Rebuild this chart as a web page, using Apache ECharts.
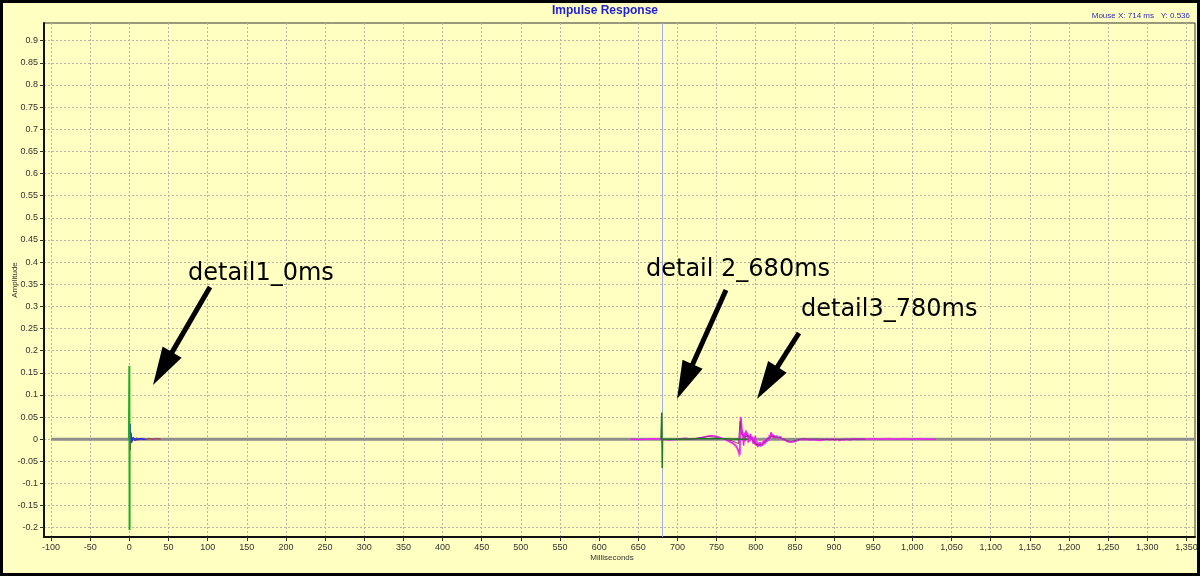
<!DOCTYPE html>
<html>
<head>
<meta charset="utf-8">
<script src="https://cdn.jsdelivr.net/npm/echarts@6/dist/echarts.min.js"></script>
<style>
html,body{margin:0;padding:0;background:#ffffc2;}
#chart{width:1200px;height:576px;}
</style>
</head>
<body>
<div id="chart"></div>
<script>
// ---------- data ----------
const xTicks = [-100,-50,0,50,100,150,200,250,300,350,400,450,500,550,600,650,700,750,800,850,900,950,1000,1050,1100,1150,1200,1250,1300,1350];
const yTicks = [-0.2,-0.15,-0.1,-0.05,0,0.05,0.1,0.15,0.2,0.25,0.3,0.35,0.4,0.45,0.5,0.55,0.6,0.65,0.7,0.75,0.8,0.85,0.9];

const baseMs = [-100, 1361];
const baseAmp = [0, 0];

const green1Ms  = [-0.5, 0, 0, 0.3, 0.3, 1];
const green1Amp = [0, 0, 0.165, -0.205, 0, 0];

const blueMs  = [0.3, 1, 1.5, 2, 3, 5, 8, 12, 20];
const blueAmp = [0, 0.035, -0.01, 0.015, -0.005, 0.003, -0.002, 0.001, 0];

const redMs  = [0.5, 1.2, 2, 3, 5, 7, 9, 12, 15, 20, 25, 30, 35, 40];
const redAmp = [0, -0.025, 0.01, -0.008, 0.005, -0.004, 0.003, -0.002, 0.002, -0.001, 0.001, 0, 0.001, 0];

const green2Ms  = [679, 680, 680, 680.6, 681, 682, 700, 730, 760, 780, 790];
const green2Amp = [0, 0, 0.06, -0.065, 0, 0, 0, 0.001, 0.001, 0, 0];

const magentaMs = [640,650,660,670,680,690,700,710,720,730,740,745,750,755,760,765,770,775,778,779.5,
  780.5,781.5,782.5,783.5,784.5,785.5,786.5,787.5,788.5,789.5,790.5,791.5,792.5,793.5,794.5,795.5,796.5,797.5,798.5,799.5,
  800.5,801.5,802.5,803.5,804.5,805.5,806.5,807.5,808.5,809.5,810.5,811.5,812.5,813.5,814.5,815.5,816.5,817.5,818.5,819.5,
  820.5,821.5,822.5,823.5,825,827,829,831,833,835,837,839,841,843,845,847,849,851,853,855,857,859,861,863,865,867,869,871,873,875,
  877,879,881,883,885,887,889,892,895,898,901,904,907,910,913,916,920,925,930,935,940,950,960,970,980,990,1000,1010,1020,1030];
const magentaAmp = [0,-0.001,0,0.001,0,-0.002,0,0.002,-0.001,0.003,0.007,0.008,0.006,0.003,0,-0.004,-0.008,-0.015,-0.025,-0.035,
  0.05,0.045,0.02,0.01,-0.015,0.015,-0.005,0.02,0.005,0.015,-0.008,0.01,-0.005,0.012,0,0.006,-0.01,0.004,-0.012,0.008,
  -0.015,-0.005,-0.018,-0.008,-0.016,-0.006,-0.017,-0.01,-0.015,-0.004,-0.012,-0.002,-0.01,0.002,-0.006,0.004,-0.004,0.01,0.002,0.016,
  0.004,0.012,0.003,0.009,0.002,0.008,0.001,0.006,0.001,0.004,-0.002,-0.004,-0.006,-0.003,-0.007,-0.004,-0.006,-0.002,-0.003,0.001,-0.001,0.003,0,0.004,-0.001,0.003,-0.002,0.002,-0.001,0.002,
  -0.002,0.001,-0.003,0.001,-0.002,0.002,-0.001,0.001,-0.002,0.001,-0.002,0,-0.003,-0.001,-0.002,0,-0.002,0.001,-0.001,0.001,0,0.001,0,0.001,0,0.001,0,0.001,0,0];

const purpleMs  = [700,720,740,750,760,770,778,780,782,786,790,795,800,805,810,815,820,830,840,845,850,860,870,880,900,920,940];
const purpleAmp = [0,0.001,0.006,0.004,0,-0.004,-0.01,0.04,0.01,0.005,0.008,0,-0.012,-0.013,-0.008,0,0.006,0.004,-0.003,-0.005,-0.003,0.001,0,0,-0.001,0,0];

const pinkMs  = [755,765,772,776,779,780,781];
const pinkAmp = [0,-0.005,-0.012,-0.022,-0.04,-0.035,0.01];

const cursorMs = 680;

const labels = ['detail1_0ms', 'detail 2_680ms', 'detail3_780ms'];
const titleText = 'Impulse Response';
const mouseText = 'Mouse X: 714 ms   Y: 0.536';

// ---------- helpers ----------
function pairs(xs, ys){ return xs.map((x,i)=>[x, ys[i]]); }
function line(name, xs, ys, color, width, z){
  return {name, type:'line', data:pairs(xs,ys), showSymbol:false, symbol:'none',
    lineStyle:{color, width}, itemStyle:{color}, z, animation:false, silent:true};
}
function arrow(sx, sy, tx, ty){
  const dx = tx - sx, dy = ty - sy, L = Math.hypot(dx, dy);
  const ux = dx / L, uy = dy / L, head = 38, hw = 11;
  const bx = tx - ux*head, by = ty - uy*head;
  return [
    {type:'line', shape:{x1:sx, y1:sy, x2:bx + ux*2, y2:by + uy*2}, style:{stroke:'#000', lineWidth:5}, z:100},
    {type:'polygon', shape:{points:[[tx,ty],[bx - uy*hw, by + ux*hw],[bx + uy*hw, by - ux*hw]]}, style:{fill:'#000'}, z:100}
  ];
}

const chart = echarts.init(document.getElementById('chart'), null, {renderer:'canvas'});
const axisFont = {color:'#333', fontSize:9, fontFamily:'Liberation Sans, Arial, sans-serif'};
const gridLine = {show:true, lineStyle:{color:'#b5b5a3', width:1, type:[2,2]}};

const option = {
  backgroundColor:'#ffffc2',
  animation:false,
  grid:{left:44, top:23, right:5, bottom:39, show:true, borderColor:'#333', borderWidth:1, backgroundColor:'transparent', outerBoundsMode:'none'},
  xAxis:{type:'value', min:-109, max:1361,
    axisLine:{show:true, onZero:false, lineStyle:{color:'#111', width:2}},
    axisTick:{show:true, length:4, lineStyle:{color:'#333'}, customValues:xTicks},
    axisLabel:Object.assign({margin:6, customValues:xTicks, formatter:v=>Number(v).toLocaleString('en-US')}, axisFont),
    splitLine:gridLine},
  yAxis:{type:'value', min:-0.221, max:0.94,
    axisLine:{show:true, onZero:false, lineStyle:{color:'#111', width:2}},
    axisTick:{show:true, length:4, lineStyle:{color:'#333'}, customValues:yTicks},
    axisLabel:Object.assign({margin:6, customValues:yTicks, formatter:v=>String(Math.round(v*100)/100)}, axisFont),
    splitLine:gridLine},
  series:[
    Object.assign(line('baseline', baseMs, baseAmp, '#8e8e8e', 3, 2), {
      markLine:{silent:true, symbol:'none', label:{show:false}, animation:false,
        lineStyle:{color:'#a9a9e6', width:1, type:'solid'}, data:[{xAxis:cursorMs}]}}),
    line('pink', pinkMs, pinkAmp, '#e88ee8', 1.2, 3),
    line('magenta', magentaMs, magentaAmp, '#ee22ee', 1.5, 4),
    line('purple', purpleMs, purpleAmp, '#883388', 1, 5),
    line('red', redMs, redAmp, '#aa2244', 1, 6),
    line('blue', blueMs, blueAmp, '#2233dd', 1.5, 7),
    line('green1', green1Ms, green1Amp, '#22aa22', 2, 8),
    line('green2', green2Ms, green2Amp, '#227722', 1.5, 8)
  ],
  graphic:[
    {type:'rect', shape:{x:1.5, y:1.5, width:1197, height:573}, style:{fill:null, stroke:'#000', lineWidth:3}, z:200},
    {type:'text', x:605, y:11, style:{text:titleText, fill:'#1e1ed2', font:'bold 12px "Liberation Sans", Arial, sans-serif', textAlign:'center', textVerticalAlign:'middle'}, z:100},
    {type:'text', x:1190, y:16, style:{text:mouseText, fill:'#2b2bb0', font:'8px "Liberation Sans", Arial, sans-serif', textAlign:'right', textVerticalAlign:'middle'}, z:100},
    {type:'text', x:15, y:280, rotation:Math.PI/2, style:{text:'Amplitude', fill:'#333', font:'8px "Liberation Sans", Arial, sans-serif', textAlign:'center', textVerticalAlign:'middle'}, z:100},
    {type:'text', x:612, y:558, style:{text:'Milliseconds', fill:'#333', font:'8px "Liberation Sans", Arial, sans-serif', textAlign:'center', textVerticalAlign:'middle'}, z:100},
    {type:'text', x:188, y:274, style:{text:labels[0], fill:'#000', font:'24px "DejaVu Sans", Verdana, sans-serif', textAlign:'left', textVerticalAlign:'middle'}, z:100},
    {type:'text', x:646, y:270, style:{text:labels[1], fill:'#000', font:'24px "DejaVu Sans", Verdana, sans-serif', textAlign:'left', textVerticalAlign:'middle'}, z:100},
    {type:'text', x:801, y:310, style:{text:labels[2], fill:'#000', font:'24px "DejaVu Sans", Verdana, sans-serif', textAlign:'left', textVerticalAlign:'middle'}, z:100}
  ].concat(arrow(210,287,153,385), arrow(726,290,677,399), arrow(799,333,757,399))
};
chart.setOption(option);
</script>
</body>
</html>
